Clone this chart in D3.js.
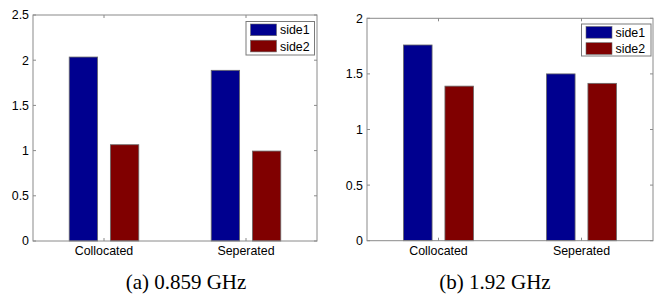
<!DOCTYPE html>
<html lang="en">
<head>
<meta charset="utf-8">
<title>side1 / side2</title>
<script src="https://cdn.jsdelivr.net/npm/d3@7"></script>
<style>
  body { margin: 0; background: #fff; }
  svg text { font-family: Arial, "Liberation Sans", sans-serif; }
</style>
</head>
<body>
<svg id="chart" width="662" height="295"></svg>
<script type="text/javascript">
// data
var categories = ["Collocated", "Seperated"];
var seriesNames = ["side1", "side2"];
var colors = ["#00008f", "#800000"];

var side1_a = [2.035, 1.888];
var side2_a = [1.065, 0.995];
var side1_b = [1.76, 1.50];
var side2_b = [1.39, 1.415];

var ticks_a = [0, 0.5, 1, 1.5, 2, 2.5];
var ticks_b = [0, 0.5, 1, 1.5, 2];

var svg = d3.select("#chart");

//////////////////////////////////////
function draw_panel(box, ymax, yticks, s1, s2, caption, legendBox) {
  var g = svg.append("g");
  var x = d3.scaleLinear().domain([0.5, 2.5]).range([box.left, box.right]);
  var y = d3.scaleLinear().domain([0, ymax]).range([box.bottom, box.top]);
  var bw = x(0.2) - x(0);

  // bars
  var rows = [];
  categories.forEach(function(c, i) {
    rows.push({ c: i + 1, v: s1[i], s: 0 });
    rows.push({ c: i + 1, v: s2[i], s: 1 });
  });
  g.selectAll(".bar").data(rows).enter().append("rect")
    .attr("class", "bar")
    .attr("x", function(d) { return x(d.c + (d.s === 0 ? -0.145 : 0.145)) - bw / 2; })
    .attr("y", function(d) { return y(d.v); })
    .attr("width", bw)
    .attr("height", function(d) { return y(0) - y(d.v); })
    .attr("fill", function(d) { return colors[d.s]; })
    .attr("stroke", "#6a6a6a")
    .attr("stroke-width", 0.8);

  // axes frame
  g.append("rect")
    .attr("x", box.left).attr("y", box.top)
    .attr("width", box.right - box.left).attr("height", box.bottom - box.top)
    .attr("fill", "none").attr("stroke", "#8a8a8a").attr("stroke-width", 1);

  // y ticks, both sides, inside
  var tl = 3;
  yticks.forEach(function(t) {
    g.append("line").attr("x1", box.left).attr("x2", box.left + tl)
      .attr("y1", y(t)).attr("y2", y(t)).attr("stroke", "#8a8a8a");
    g.append("line").attr("x1", box.right).attr("x2", box.right - tl)
      .attr("y1", y(t)).attr("y2", y(t)).attr("stroke", "#8a8a8a");
    g.append("text").attr("x", box.left - 4).attr("y", y(t))
      .attr("dy", "0.36em").attr("text-anchor", "end")
      .attr("font-size", 12.4).attr("fill", "#000").text(t);
  });

  // x ticks
  categories.forEach(function(c, i) {
    var xx = x(i + 1);
    g.append("line").attr("x1", xx).attr("x2", xx)
      .attr("y1", box.bottom).attr("y2", box.bottom - tl).attr("stroke", "#8a8a8a");
    g.append("line").attr("x1", xx).attr("x2", xx)
      .attr("y1", box.top).attr("y2", box.top + tl).attr("stroke", "#8a8a8a");
    g.append("text").attr("x", xx).attr("y", box.bottom + 14)
      .attr("text-anchor", "middle").attr("font-size", 12.4)
      .attr("fill", "#000").text(c);
  });

  // legend
  var lg = g.append("g");
  lg.append("rect").attr("x", legendBox.x).attr("y", legendBox.y)
    .attr("width", legendBox.w).attr("height", legendBox.h)
    .attr("fill", "#fff").attr("stroke", "#7a7a7a");
  seriesNames.forEach(function(n, i) {
    var yy = legendBox.y + 2.5 + i * 16.2;
    lg.append("rect").attr("x", legendBox.x + 4.5).attr("y", yy)
      .attr("width", 26).attr("height", 11.7)
      .attr("fill", colors[i]).attr("stroke", "#6a6a6a").attr("stroke-width", 0.6);
    lg.append("text").attr("x", legendBox.x + 34).attr("y", yy + 6)
      .attr("dy", "0.36em").attr("font-size", 12.4).attr("fill", "#000").text(n);
  });

  // caption
  svg.append("text")
    .attr("x", (box.left + box.right) / 2 + (caption.dx || 0)).attr("y", 289)
    .attr("text-anchor", "middle")
    .style("font-family", "'Times New Roman', 'Liberation Serif', serif")
    .attr("font-size", 21).attr("fill", "#000")
    .text(caption.text);
}

draw_panel({ left: 33, right: 317, top: 15, bottom: 241 }, 2.5, ticks_a,
  side1_a, side2_a, { text: "(a) 0.859 GHz", dx: 11 },
  { x: 246, y: 21.5, w: 68.5, h: 33.5 });

draw_panel({ left: 367, right: 653, top: 18.3, bottom: 240.7 }, 2, ticks_b,
  side1_b, side2_b, { text: "(b) 1.92 GHz", dx: -15 },
  { x: 581.5, y: 24, w: 69.5, h: 32 });
</script>
</body>
</html>
